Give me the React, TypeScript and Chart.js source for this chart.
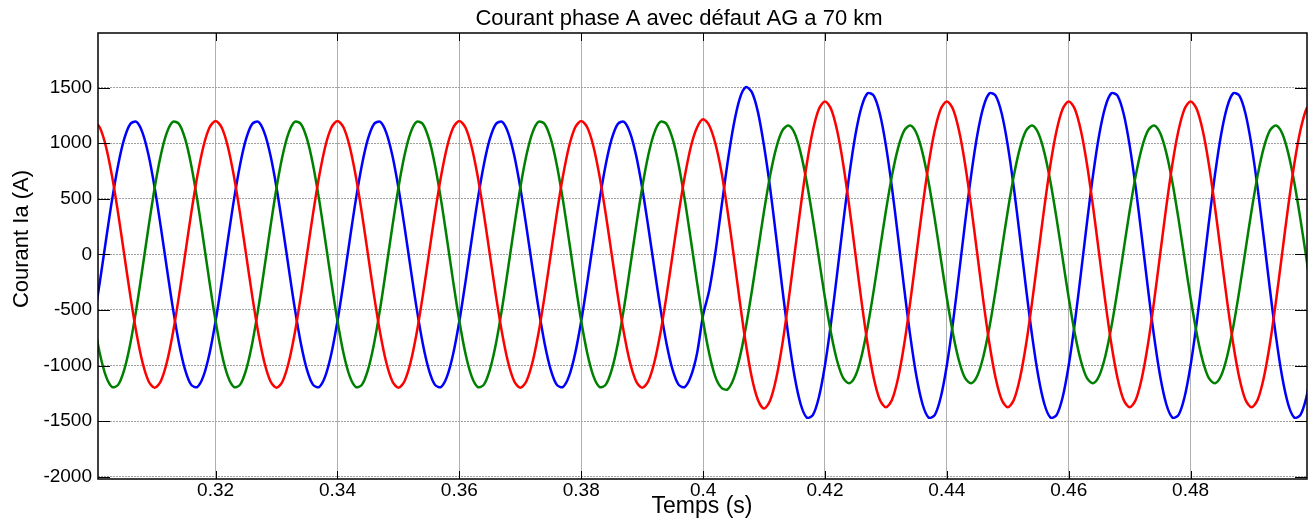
import React, { useEffect, useRef } from "react";
import { Chart, registerables } from "chart.js";

Chart.register(...registerables);

const titleText = "Courant phase A avec défaut AG a 70 km";
const xLabel = "Temps (s)";
const yLabel = "Courant Ia (A)";

const xTicks = [0.32, 0.34, 0.36, 0.38, 0.4, 0.42, 0.44, 0.46, 0.48];
const yTicks = [-2000, -1500, -1000, -500, 0, 500, 1000, 1500];

const time = [
  0.300, 0.301, 0.302, 0.303, 0.304, 0.305, 0.306, 0.307, 0.308, 0.309,
  0.310, 0.311, 0.312, 0.313, 0.314, 0.315, 0.316, 0.317, 0.318, 0.319,
  0.320, 0.321, 0.322, 0.323, 0.324, 0.325, 0.326, 0.327, 0.328, 0.329,
  0.330, 0.331, 0.332, 0.333, 0.334, 0.335, 0.336, 0.337, 0.338, 0.339,
  0.340, 0.341, 0.342, 0.343, 0.344, 0.345, 0.346, 0.347, 0.348, 0.349,
  0.350, 0.351, 0.352, 0.353, 0.354, 0.355, 0.356, 0.357, 0.358, 0.359,
  0.360, 0.361, 0.362, 0.363, 0.364, 0.365, 0.366, 0.367, 0.368, 0.369,
  0.370, 0.371, 0.372, 0.373, 0.374, 0.375, 0.376, 0.377, 0.378, 0.379,
  0.380, 0.381, 0.382, 0.383, 0.384, 0.385, 0.386, 0.387, 0.388, 0.389,
  0.390, 0.391, 0.392, 0.393, 0.394, 0.395, 0.396, 0.397, 0.398, 0.399,
  0.400, 0.401, 0.402, 0.403, 0.404, 0.405, 0.406, 0.407, 0.408, 0.409,
  0.410, 0.411, 0.412, 0.413, 0.414, 0.415, 0.416, 0.417, 0.418, 0.419,
  0.420, 0.421, 0.422, 0.423, 0.424, 0.425, 0.426, 0.427, 0.428, 0.429,
  0.430, 0.431, 0.432, 0.433, 0.434, 0.435, 0.436, 0.437, 0.438, 0.439,
  0.440, 0.441, 0.442, 0.443, 0.444, 0.445, 0.446, 0.447, 0.448, 0.449,
  0.450, 0.451, 0.452, 0.453, 0.454, 0.455, 0.456, 0.457, 0.458, 0.459,
  0.460, 0.461, 0.462, 0.463, 0.464, 0.465, 0.466, 0.467, 0.468, 0.469,
  0.470, 0.471, 0.472, 0.473, 0.474, 0.475, 0.476, 0.477, 0.478, 0.479,
  0.480, 0.481, 0.482, 0.483, 0.484, 0.485, 0.486, 0.487, 0.488, 0.489,
  0.490, 0.491, 0.492, 0.493, 0.494, 0.495, 0.496, 0.497, 0.498, 0.499,
  0.500,
];

// Blue trace
const currentBlue = [
  -600, -249, 125, 488, 803, 1039, 1174, 1193, 1096, 892, 600, 249, -125, -488, -803, -1039, -1174, -1193, -1096, -892,
  -600, -249, 125, 488, 803, 1039, 1174, 1193, 1096, 892, 600, 249, -125, -488, -803, -1039, -1174, -1193, -1096, -892,
  -600, -249, 125, 488, 803, 1039, 1174, 1193, 1096, 892, 600, 249, -125, -488, -803, -1039, -1174, -1193, -1096, -892,
  -600, -249, 125, 488, 803, 1039, 1174, 1193, 1096, 892, 600, 249, -125, -488, -803, -1039, -1174, -1193, -1096, -892,
  -600, -249, 125, 488, 803, 1039, 1174, 1193, 1096, 892, 600, 249, -125, -488, -803, -1039, -1174, -1193, -1096, -892,
  -545, -325, 10, 420, 820, 1160, 1400, 1505, 1460, 1280, 975, 596, 152,
  -307, -736, -1095, -1346, -1468, -1446, -1285, -997, -614, -170, 289, 718, 1077, 1328, 1450, 1428, 1267, 979, 596, 152,
  -307, -736, -1095, -1346, -1468, -1446, -1285, -997, -614, -170, 289, 718, 1077, 1328, 1450, 1428, 1267, 979, 596, 152,
  -307, -736, -1095, -1346, -1468, -1446, -1285, -997, -614, -170, 289, 718, 1077, 1328, 1450, 1428, 1267, 979, 596, 152,
  -307, -736, -1095, -1346, -1468, -1446, -1285, -997, -614, -170, 289, 718, 1077, 1328, 1450, 1428, 1267, 979, 596, 152,
  -307, -736, -1095, -1346, -1468, -1446, -1285, -997,
];

// Green trace
const currentGreen = [
  -600, -892, -1096, -1193, -1174, -1039, -803, -488, -125, 249, 600, 892, 1096, 1193, 1174, 1039, 803, 488, 125, -249,
  -600, -892, -1096, -1193, -1174, -1039, -803, -488, -125, 249, 600, 892, 1096, 1193, 1174, 1039, 803, 488, 125, -249,
  -600, -892, -1096, -1193, -1174, -1039, -803, -488, -125, 249, 600, 892, 1096, 1193, 1174, 1039, 803, 488, 125, -249,
  -600, -892, -1096, -1193, -1174, -1039, -803, -488, -125, 249, 600, 892, 1096, 1193, 1174, 1039, 803, 488, 125, -249,
  -600, -892, -1096, -1193, -1174, -1039, -803, -488, -125, 249, 600, 892, 1096, 1193, 1174, 1039, 803, 488, 125, -249,
  -600, -892, -1100, -1200, -1215, -1120, -930, -660, -330, 30, 390, 711, 959, 1114,
  1159, 1092, 916, 652, 324, -36, -393, -711, -959, -1114, -1159, -1092, -916, -652, -324, 36, 393, 711, 959, 1114,
  1159, 1092, 916, 652, 324, -36, -393, -711, -959, -1114, -1159, -1092, -916, -652, -324, 36, 393, 711, 959, 1114,
  1159, 1092, 916, 652, 324, -36, -393, -711, -959, -1114, -1159, -1092, -916, -652, -324, 36, 393, 711, 959, 1114,
  1159, 1092, 916, 652, 324, -36, -393, -711, -959, -1114, -1159, -1092, -916, -652, -324, 36, 393, 711, 959, 1114,
  1159, 1092, 916, 652, 324, -36, -393,
];

// Red trace
const currentRed = [
  1200, 1141, 971, 705, 371, 0, -371, -705, -971, -1141, -1200, -1141, -971, -705, -371, 0, 371, 705, 971, 1141,
  1200, 1141, 971, 705, 371, 0, -371, -705, -971, -1141, -1200, -1141, -971, -705, -371, 0, 371, 705, 971, 1141,
  1200, 1141, 971, 705, 371, 0, -371, -705, -971, -1141, -1200, -1141, -971, -705, -371, 0, 371, 705, 971, 1141,
  1200, 1141, 971, 705, 371, 0, -371, -705, -971, -1141, -1200, -1141, -971, -705, -371, 0, 371, 705, 971, 1141,
  1200, 1141, 971, 705, 371, 0, -371, -705, -971, -1141, -1200, -1141, -971, -705, -371, 0, 371, 705, 971, 1141,
  1215, 1160, 1000, 745, 395, 0, -415, -800, -1110, -1310, -1387, -1315, -1115, -810, -425, 0, 425, 809, 1112, 1308,
  1375, 1308, 1112, 809, 425, 0, -425, -809, -1112, -1308, -1375, -1308, -1112, -809, -425, 0, 425, 809, 1112, 1308,
  1375, 1308, 1112, 809, 425, 0, -425, -809, -1112, -1308, -1375, -1308, -1112, -809, -425, 0, 425, 809, 1112, 1308,
  1375, 1308, 1112, 809, 425, 0, -425, -809, -1112, -1308, -1375, -1308, -1112, -809, -425, 0, 425, 809, 1112, 1308,
  1375, 1308, 1112, 809, 425, 0, -425, -809, -1112, -1308, -1375, -1308, -1112, -809, -425, 0, 425, 809, 1112, 1308,
  1375,
];

const FONT = '"Liberation Sans", Arial, Helvetica, sans-serif';

const framePlugin = {
  id: "matlabFrame",
  afterDraw(chart: any) {
    const { ctx, chartArea: a, scales } = chart;
    ctx.save();
    ctx.strokeStyle = "#000";
    ctx.lineWidth = 1;
    ctx.beginPath();
    xTicks.forEach((v) => {
      const px = Math.round(scales.x.getPixelForValue(v)) + 0.5;
      ctx.moveTo(px, a.bottom);
      ctx.lineTo(px, a.bottom - 8);
      ctx.moveTo(px, a.top);
      ctx.lineTo(px, a.top + 8);
    });
    yTicks.forEach((v) => {
      const py = Math.round(scales.y.getPixelForValue(v)) + 0.5;
      ctx.moveTo(a.left, py);
      ctx.lineTo(a.left + 12, py);
      ctx.moveTo(a.right, py);
      ctx.lineTo(a.right - 12, py);
    });
    ctx.stroke();
    ctx.lineWidth = 1.5;
    ctx.strokeRect(a.left, a.top, a.right - a.left, a.bottom - a.top);

    ctx.fillStyle = "#000";
    ctx.textAlign = "center";
    ctx.textBaseline = "alphabetic";
    ctx.font = `22px ${FONT}`;
    ctx.fillText(titleText, 679, 25);
    ctx.font = `23px ${FONT}`;
    ctx.fillText(xLabel, 702, 513);
    ctx.translate(28, 239);
    ctx.rotate(-Math.PI / 2);
    ctx.font = `22px ${FONT}`;
    ctx.fillText(yLabel, 0, 0);
    ctx.restore();
  },
};

export default function App() {
  const canvasRef = useRef<HTMLCanvasElement | null>(null);

  useEffect(() => {
    if (!canvasRef.current) return;
    Chart.defaults.font.family = FONT;
    const mk = (vals: number[]) => time.map((t, i) => ({ x: t, y: vals[i] }));
    const chart = new Chart(canvasRef.current, {
      type: "line",
      data: {
        datasets: [
          { label: "C", data: mk(currentRed), borderColor: "#ff0000", borderWidth: 2.5, pointRadius: 0, tension: 0.3, fill: false },
          { label: "B", data: mk(currentGreen), borderColor: "#008000", borderWidth: 2.5, pointRadius: 0, tension: 0.3, fill: false },
          { label: "A", data: mk(currentBlue), borderColor: "#0000ff", borderWidth: 2.5, pointRadius: 0, tension: 0.3, fill: false },
        ],
      },
      options: {
        animation: false,
        responsive: false,
        devicePixelRatio: 1,
        layout: { padding: { top: 33, right: 7, left: 0, bottom: 0 } },
        plugins: {
          legend: { display: false },
          title: { display: false },
          tooltip: { enabled: false },
        },
        scales: {
          x: {
            type: "linear",
            min: 0.3007,
            max: 0.4991,
            afterFit: (s: any) => {
              s.height = 43;
            },
            afterBuildTicks: (s: any) => {
              s.ticks = xTicks.map((v) => ({ value: v }));
            },
            grid: { color: "#b0b0b0", lineWidth: 1, drawTicks: false },
            border: { display: false },
            ticks: {
              color: "#000",
              padding: 0,
              maxRotation: 0,
              autoSkip: false,
              font: { size: 19, family: FONT },
              callback: (v: any) => String(Number(Number(v).toFixed(2))),
            },
          },
          y: {
            type: "linear",
            min: -2021,
            max: 1992,
            afterFit: (s: any) => {
              s.width = 98;
            },
            afterBuildTicks: (s: any) => {
              s.ticks = yTicks.map((v) => ({ value: v }));
            },
            grid: { color: "#a0a0a0", lineWidth: 1, drawTicks: false },
            border: { display: false, dash: [2, 1] },
            ticks: {
              color: "#000",
              padding: 6,
              autoSkip: false,
              font: { size: 19, family: FONT },
              callback: (v: any) => String(v),
            },
          },
        },
      },
      plugins: [framePlugin],
    });
    return () => chart.destroy();
  }, []);

  return (
    <div style={{ position: "fixed", left: 0, top: 0, width: 1314, height: 522, background: "#fff" }}>
      <canvas ref={canvasRef} width={1314} height={522} style={{ display: "block" }} />
    </div>
  );
}
